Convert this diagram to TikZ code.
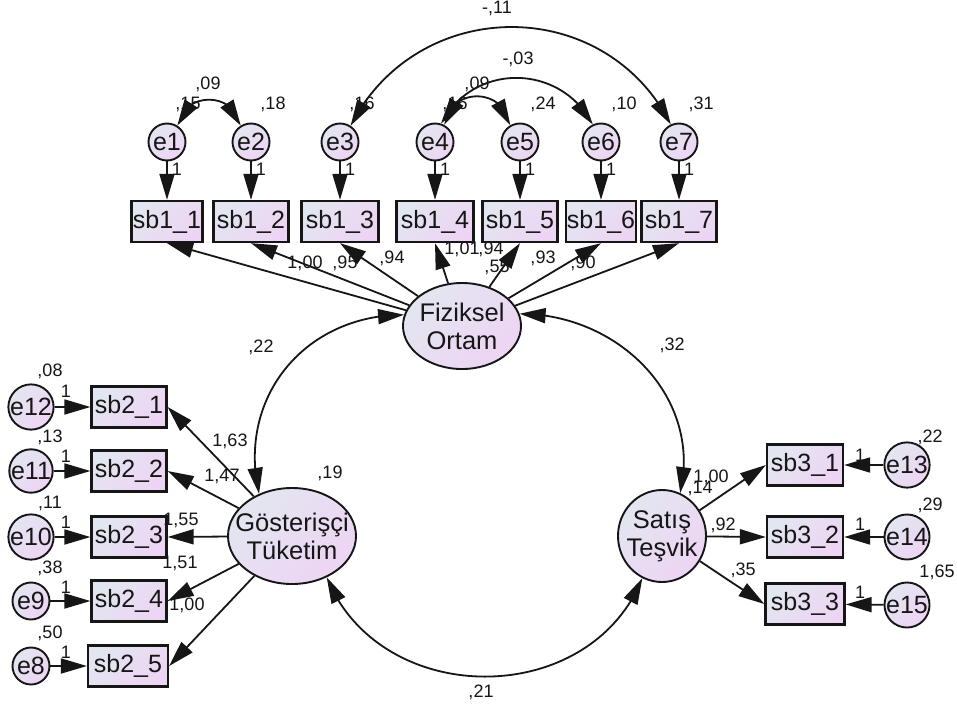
\documentclass[tikz,border=0pt]{standalone}
\usepackage{fontspec}
\setmainfont{Liberation Sans}
\usetikzlibrary{arrows.meta,bending,shapes.geometric}
\definecolor{cL}{RGB}{226,230,240}
\definecolor{cR}{RGB}{238,212,244}
\definecolor{ink}{RGB}{22,22,22}
\begin{document}
\begin{tikzpicture}[x=1pt,y=-1pt,
  box/.style={draw=ink, line width=2.3pt, top color=cL, bottom color=cR, shading angle=45,
    minimum height=41pt, inner sep=0pt, text=ink, font=\fontsize{25}{28}\selectfont},
  err/.style={circle, draw=ink, line width=1.9pt, top color=cL, bottom color=cR, shading angle=45,
    minimum size=37pt, inner sep=0pt, text=ink, font=\fontsize{25}{28}\selectfont},
  lat/.style={ellipse, draw=ink, line width=1.9pt, top color=cL, bottom color=cR, shading angle=45,
    inner sep=0pt},
  latt/.style={align=center, inner sep=0pt, text=ink, font=\fontsize{25.5}{28}\selectfont},
  lbl/.style={inner sep=0pt, text=ink, font=\fontsize{18}{20}\selectfont},
  arr/.style={line width=1.8pt, draw=ink, -{Triangle[length=26pt,width=15pt]}},
  cov/.style={line width=1.8pt, draw=ink, {Triangle[length=26pt,width=15pt]}-{Triangle[length=26pt,width=15pt]}},
]
\useasboundingbox[fill=white] (0,0) rectangle (957,709);

% ---- top error terms
\node[err] (e1) at (167,142) {e1};
\node[err] (e2) at (251,142) {e2};
\node[err] (e3) at (340,142) {e3};
\node[err] (e4) at (435,142) {e4};
\node[err] (e5) at (520,142) {e5};
\node[err] (e6) at (601,142) {e6};
\node[err] (e7) at (679,142) {e7};
% ---- top indicators
\node[box, minimum width=71pt] (s11) at (167,221.5) {sb1\_1};
\node[box, minimum width=75pt] (s12) at (251,221.5) {sb1\_2};
\node[box, minimum width=77pt] (s13) at (340,221.5) {sb1\_3};
\node[box, minimum width=77pt] (s14) at (435,221.5) {sb1\_4};
\node[box, minimum width=75pt] (s15) at (520,221.5) {sb1\_5};
\node[box, minimum width=70pt] (s16) at (601,221.5) {sb1\_6};
\node[box, minimum width=75pt] (s17) at (679,221.5) {sb1\_7};

% ---- latent variables
\node[lat, minimum width=118pt, minimum height=86pt] (F) at (462,326) {};
\node[latt] (Ft) at (F.center) {Fiziksel\\Ortam};
\node[lat, minimum width=128pt, minimum height=96pt] (G) at (292,536) {};
\node[latt] (Gt) at (G.center) {Gösterişçi\\Tüketim};
\node[lat, minimum width=88pt, minimum height=92pt] (S) at (662,536) {};
\node[latt] (St) at (S.center) {Satış\\Teşvik};

% ---- left indicators and errors
\node[box, minimum width=75pt] (s21) at (129,407) {sb2\_1};
\node[box, minimum width=75pt] (s22) at (129,471) {sb2\_2};
\node[box, minimum width=75pt] (s23) at (129,537) {sb2\_3};
\node[box, minimum width=75pt] (s24) at (129,601) {sb2\_4};
\node[box, minimum width=80pt] (s25) at (128,666) {sb2\_5};
\node[err] (e12) at (31,407) {e12};
\node[err] (e11) at (31,471) {e11};
\node[err] (e10) at (31,537) {e10};
\node[err] (e9) at (31,601) {e9};
\node[err] (e8) at (31,666) {e8};

% ---- right indicators and errors
\node[box, minimum width=76pt] (s31) at (805,465) {sb3\_1};
\node[box, minimum width=76pt] (s32) at (805,537) {sb3\_2};
\node[box, minimum width=79pt] (s33) at (805,604) {sb3\_3};
\node[err] (e13) at (907,465) {e13};
\node[err] (e14) at (907,537) {e14};
\node[err] (e15) at (907,605) {e15};

% ---- labels: top
\node[lbl] (l01) at (188,104) {,15};
\node[lbl] (l02) at (273,104) {,18};
\node[lbl] (l03) at (362,104) {,16};
\node[lbl] (l04) at (455,104) {,16};
\node[lbl] (l05) at (543,104) {,24};
\node[lbl] (l06) at (624,104) {,10};
\node[lbl] (l07) at (701,104) {,31};
\node[lbl] (l08) at (208,84) {,09};
\node[lbl] (l09) at (477,84) {,09};
\node[lbl] (l10) at (518,59) {-,03};
\node[lbl] (l11) at (497,8) {-,11};
\foreach \i/\xx in {1/167,2/251,3/340,4/435,5/520,6/601,7/679}
  \node[lbl] (one\i) at (\xx+10,169) {1};
\node[lbl] (f1) at (305,263) {1,00};
\node[lbl] (f2) at (345,263) {,95};
\node[lbl] (f3) at (392,258) {,94};
\node[lbl] (f4) at (462,249) {1,01};
\node[lbl] (f5) at (491,249) {,94};
\node[lbl] (f6) at (497,267) {,55};
\node[lbl] (f7) at (543,258) {,93};
\node[lbl] (f8) at (583,263) {,90};
\node[lbl] (c1) at (261,347) {,22};
\node[lbl] (c2) at (672,345) {,32};
\node[lbl] (c3) at (481,692) {,21};
% ---- labels: left
\node[lbl] (g1) at (230,441) {1,63};
\node[lbl] (g2) at (222,476) {1,47};
\node[lbl] (g3) at (181,520) {1,55};
\node[lbl] (g4) at (180,563) {1,51};
\node[lbl] (g5) at (187,605) {1,00};
\node[lbl] (gv) at (330,473) {,19};
\node[lbl] (v12) at (50,371) {,08};
\node[lbl] (v11) at (50,437) {,13};
\node[lbl] (v10) at (50,503) {,11};
\node[lbl] (v9) at (50,568) {,38};
\node[lbl] (v8) at (50,633) {,50};
\foreach \i/\yy in {12/391,11/456,10/522,9/587,8/652}
  \node[lbl] (o\i) at (66,\yy) {1};
% ---- labels: right
\node[lbl] (t1) at (711,477) {1,00};
\node[lbl] (tv) at (700,488) {,14};
\node[lbl] (t2) at (723,525) {,92};
\node[lbl] (t3) at (743,570) {,35};
\node[lbl] (v13) at (930,437) {,22};
\node[lbl] (v14) at (930,505) {,29};
\node[lbl] (v15) at (937,572) {1,65};
\node[lbl] (o13) at (860,455) {1};
\node[lbl] (o14) at (860,524) {1};
\node[lbl] (o15) at (860,592) {1};

% ---- regression paths
\foreach \i in {1,...,7} {
  \draw[arr] (e\i) -- (s1\i);
  \draw[arr] (F) -- (s1\i.south);
}
\draw[arr] (e12) -- (s21);
\draw[arr] (e11) -- (s22);
\draw[arr] (e10) -- (s23);
\draw[arr] (e9) -- (s24);
\draw[arr] (e8) -- (s25);
\foreach \i in {1,...,5}
  \draw[arr] (G) -- (s2\i.east);
\draw[arr] (e13) -- (s31);
\draw[arr] (e14) -- (s32);
\draw[arr] (e15) -- (s33);
\foreach \i in {1,2,3}
  \draw[arr] (S) -- (s3\i.west);

% ---- covariances
\draw[cov] (e1.58) to[out=79,in=101,looseness=1.42] (e2.122);
\draw[cov] (e3.57) to[out=63,in=117,looseness=1.17] (e7.115);
\draw[cov] (e4.72) to[out=62,in=118,looseness=1.17] (e6.115);
\draw[cov] (e4.62) to[out=80,in=100,looseness=1.5] (e5.120);
\draw[cov] (F.169) to[out=180,in=103,looseness=1.1] (G.128);
\draw[cov] (F.12) to[out=0,in=77,looseness=1.05] (S.67);
\draw[cov] (G.-50) to[out=-68,in=-112,looseness=1.15] (S.245);
\end{tikzpicture}
\end{document}
